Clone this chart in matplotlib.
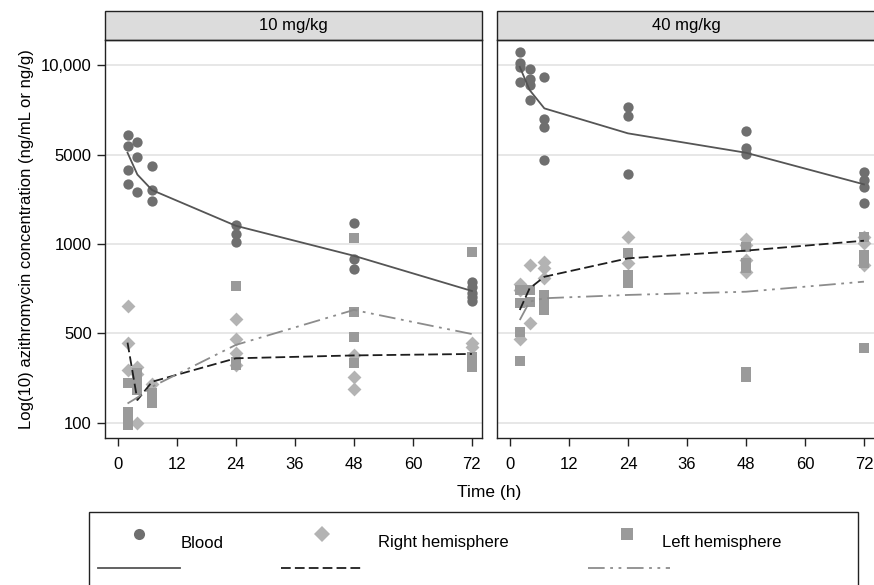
import numpy as np
import matplotlib
matplotlib.use("Agg")
import matplotlib.pyplot as plt
from matplotlib.lines import Line2D
from matplotlib.patches import Rectangle

plt.rcParams["font.family"] = ["Liberation Sans", "DejaVu Sans"]
plt.rcParams["lines.scale_dashes"] = False

# Time points (h) and y-axis labels
times = [2, 4, 7, 24, 48, 72]
y_ticks = [100, 500, 1000, 5000, 10000]
y_labels = ["100", "500", "1000", "5000", "10,000"]
x_ticks = [0, 12, 24, 36, 48, 60, 72]
panels = ["10 mg/kg", "40 mg/kg"]

# 10 mg/kg - individual values
blood10_t = [2, 2, 2, 2, 4, 4, 4, 7, 7, 7, 24, 24, 24, 48, 48, 48, 72, 72, 72, 72, 72]
blood10_v = [5815, 5350, 3786, 2925, 5523, 4800, 2532, 4075, 2636, 2180,
             1407, 1196, 1028, 1470, 889, 824, 743, 715, 686, 665, 643]
right10_t = [2, 2, 2, 4, 4, 4, 7, 24, 24, 24, 24, 48, 48, 48, 72, 72]
right10_v = [620, 424, 259, 275, 240, 100, 202, 558, 455, 350, 284, 337, 228, 183, 419, 394]
left10_t = [2, 2, 2, 2, 4, 4, 4, 7, 7, 7, 24, 24, 24, 48, 48, 48, 48, 72, 72, 72, 72]
left10_v = [206, 122, 109, 97, 244, 204, 181, 171, 156, 142, 722, 301, 284,
            1118, 589, 472, 295, 942, 330, 301, 276]
# 10 mg/kg - mean curves
blood10_mean = [5070, 3488, 2636, 1389, 913, 695]
right10_mean = [424, 151, 210, 320, 337, 346]
left10_mean = [142, 158, 192, 407, 600, 495]

# 40 mg/kg - individual values
blood40_t = [2, 2, 2, 2, 4, 4, 4, 4, 7, 7, 7, 7, 24, 24, 24, 48, 48, 48, 72, 72, 72, 72]
blood40_v = [11088, 10133, 9862, 8743, 9695, 8975, 8566, 7626, 9140, 6584, 6172, 4535,
             7205, 6737, 3523, 5977, 5269, 5021, 3681, 3161, 2775, 2077]
right40_t = [2, 2, 2, 4, 4, 7, 7, 7, 24, 24, 48, 48, 48, 48, 72, 72, 72]
right40_v = [732, 700, 453, 850, 541, 872, 828, 767, 1141, 861, 1087, 991, 883, 807, 1141, 1013, 850]
left40_t = [2, 2, 2, 2, 4, 4, 7, 7, 7, 24, 24, 24, 48, 48, 48, 48, 48, 72, 72, 72, 72]
left40_v = [700, 632, 507, 305, 700, 640, 674, 640, 600, 935, 787, 737,
            980, 861, 828, 251, 230, 1141, 918, 861, 384]
# 40 mg/kg - mean curves
blood40_mean = [9862, 8243, 7150, 5892, 5070, 2925]
right40_mean = [600, 709, 776, 895, 950, 1061]
left40_mean = [555, 640, 657, 674, 691, 747]

# y axis: labelled values are evenly spaced (log interpolation between them)
LT = np.log10(y_ticks)
POS = np.arange(len(y_ticks), dtype=float)


def fwd(v):
    lv = np.log10(np.clip(np.asarray(v, dtype=float), 1e-6, None))
    out = np.interp(lv, LT, POS)
    out = np.where(lv < LT[0], (lv - LT[0]) / (LT[1] - LT[0]), out)
    out = np.where(lv > LT[-1], POS[-1] + (lv - LT[-1]) / (LT[-1] - LT[-2]), out)
    return out


def inv(p):
    p = np.asarray(p, dtype=float)
    lv = np.interp(p, POS, LT)
    lv = np.where(p < 0, LT[0] + p * (LT[1] - LT[0]), lv)
    lv = np.where(p > POS[-1], LT[-1] + (p - POS[-1]) * (LT[-1] - LT[-2]), lv)
    return 10 ** lv


c_blood, c_right, c_left = "#6f6f6f", "#b3b3b3", "#9a9a9a"
l_blood, l_right, l_left = "#555555", "#1e1e1e", "#8c8c8c"
ls_right = (0, (7, 3))
ls_left = (0, (12, 4, 2, 4, 2, 4))

W, H = 874, 585
fig = plt.figure(figsize=(W / 100, H / 100), dpi=100)

data = [
    (blood10_t, blood10_v, right10_t, right10_v, left10_t, left10_v,
     blood10_mean, right10_mean, left10_mean),
    (blood40_t, blood40_v, right40_t, right40_v, left40_t, left40_v,
     blood40_mean, right40_mean, left40_mean),
]
lefts = [105, 497]
widths = [377, 379]
xlims = [(-2.58, 74.05), (-2.63, 74.45)]
top, bottom = 40, 438

for i, (ax_left, w) in enumerate(zip(lefts, widths)):
    ax = fig.add_axes([ax_left / W, (H - bottom) / H, w / W, (bottom - top) / H])
    bt, bv, rt, rv, lt, lv, bm, rm, lm = data[i]
    ax.set_yscale("function", functions=(fwd, inv))
    ax.set_ylim(76.3, 12143)
    ax.set_xlim(*xlims[i])
    ax.set_yticks(y_ticks)
    ax.set_xticks(x_ticks)
    ax.grid(axis="y", color="#e3e3e3", lw=1.2)
    ax.set_axisbelow(True)

    ax.scatter(bt, bv, marker="o", s=55, color=c_blood, lw=0, zorder=3)
    ax.scatter(rt, rv, marker="D", s=50, color=c_right, lw=0, zorder=3)
    ax.scatter(lt, lv, marker="s", s=55, color=c_left, lw=0, zorder=3)
    ax.plot(times, bm, color=l_blood, lw=1.3, zorder=4)
    ax.plot(times, rm, color=l_right, lw=1.3, ls=ls_right, zorder=4)
    ax.plot(times, lm, color=l_left, lw=1.3, ls=ls_left, zorder=4)

    for s in ax.spines.values():
        s.set_color("#222222")
        s.set_linewidth(1.0)
    ax.tick_params(axis="x", length=6, width=1, pad=8, labelsize=12, color="#222222")
    if i == 0:
        ax.set_yticklabels(y_labels)
        ax.tick_params(axis="y", length=6, width=1, labelsize=12, color="#222222")
        ax.set_ylabel("Log(10) azithromycin concentration (ng/mL or ng/g)",
                      fontsize=12, labelpad=5)
    else:
        ax.tick_params(axis="y", length=0, labelleft=False)

    # panel strip
    sh = 29 / (bottom - top)
    ax.add_patch(Rectangle((0, 1), 1, sh, transform=ax.transAxes, clip_on=False,
                           facecolor="#dcdcdc", edgecolor="#222222", lw=1.0))
    ax.text(0.5, 1 + sh / 2, panels[i], transform=ax.transAxes,
            ha="center", va="center", fontsize=12)

fig.text(489.5 / W, 1 - 493 / H, "Time (h)", ha="center", va="center", fontsize=12.5)

# legend box
fig.patches.append(Rectangle((89 / W, -0.05), (858 - 89) / W, 0.05 + (H - 512) / H,
                             transform=fig.transFigure, facecolor="none",
                             edgecolor="#222222", lw=1.0))
ym = 1 - 534 / H
yt = 1 - 543 / H
yl = 1 - 568 / H
for mx, tx, lab, mk, mc in [(139, 181, "Blood", "o", c_blood),
                            (322, 378, "Right hemisphere", "D", c_right),
                            (627, 662, "Left hemisphere", "s", c_left)]:
    fig.add_artist(Line2D([mx / W], [ym], marker=mk, color=mc, markersize=8,
                          markeredgewidth=0, transform=fig.transFigure))
    fig.text(tx / W, yt, lab, ha="left", va="center", fontsize=12)
for x0, x1, col, ls in [(98, 180, l_blood, "-"), (281, 364, l_right, ls_right),
                        (588, 670, l_left, ls_left)]:
    fig.add_artist(Line2D([x0 / W, x1 / W], [yl, yl], color=col, lw=1.3, ls=ls,
                          transform=fig.transFigure))

fig.savefig("out.png", dpi=100)
